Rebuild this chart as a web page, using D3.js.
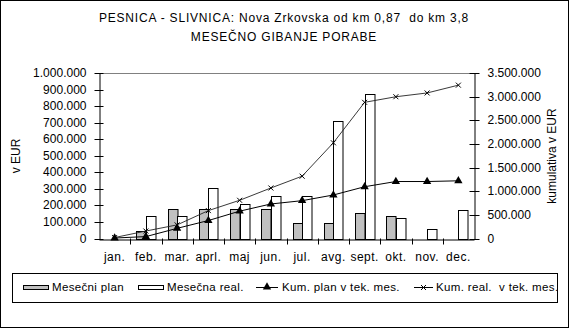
<!DOCTYPE html>
<html>
<head>
<meta charset="utf-8">
<script src="https://cdn.jsdelivr.net/npm/d3@7"></script>
<style>
  html, body { margin: 0; padding: 0; background: #fff; }
  svg { display: block; font-family: "Liberation Sans", Arial, sans-serif; }
  text { fill: #000; }
</style>
</head>
<body>
<svg id="chart" width="570" height="329"></svg>
<script>
// Monthly consumption, plan vs. realisation (EUR), and cumulative totals
const months = ["jan.", "feb.", "mar.", "aprl.", "maj", "jun.", "jul.", "avg.", "sept.", "okt.", "nov.", "dec."];
const monthlyPlan = [0, 45000, 178000, 178000, 178000, 178000, 95000, 95000, 154000, 136000, 0, 0];
const monthlyReal = [0, 136000, 136000, 303000, 208000, 256000, 256000, 709000, 872000, 122000, 57000, 172000];
const cumPlan = [10000, 40000, 215000, 380000, 578000, 730000, 800000, 920000, 1095000, 1205000, 1205000, 1220000];
const cumReal = [20000, 158000, 288000, 590000, 808000, 1068000, 1318000, 2024000, 2880000, 2998000, 3078000, 3243000];
const leftTicks = [0, 100000, 200000, 300000, 400000, 500000, 600000, 700000, 800000, 900000, 1000000];
const rightTicks = [0, 500000, 1000000, 1500000, 2000000, 2500000, 3000000, 3500000];
const legendLabels = ["Mesečni plan", "Mesečna real.", "Kum. plan v tek. mes.", "Kum. real.  v tek. mes."];

const svg = d3.select("#chart");
const W = 570, H = 329;
const plot = { left: 99, right: 474, top: 73, bottom: 238.5 };

const fmt = d3.formatLocale({ decimal: ",", thousands: ".", grouping: [3], currency: ["", ""] }).format(",");

// frame
svg.append("rect").attr("x", 0.5).attr("y", 0.5).attr("width", W - 2).attr("height", H - 2)
  .attr("fill", "#fff").attr("stroke", "#000");

// title
const title = svg.append("text").attr("text-anchor", "middle").attr("font-size", 12)
  .attr("letter-spacing", 0.8).style("white-space", "pre");
title.append("tspan").attr("x", 284).attr("y", 22).text("PESNICA - SLIVNICA: Nova Zrkovska od km 0,87  do km 3,8");
title.append("tspan").attr("x", 284).attr("y", 41).text("MESEČNO GIBANJE PORABE");

const x = d3.scaleBand().domain(months).range([plot.left, plot.right]).padding(0);
const yL = d3.scaleLinear().domain([0, 1000000]).range([plot.bottom, plot.top]);
const yR = d3.scaleLinear().domain([0, 3500000]).range([plot.bottom, plot.top]);

// top plot border line
svg.append("line").attr("x1", plot.left).attr("x2", plot.right)
  .attr("y1", Math.round(yL(1000000)) + 0.5).attr("y2", Math.round(yL(1000000)) + 0.5)
  .attr("stroke", "#808080");

// bars
const bw = 9.5;
const cx = m => x(m) + x.bandwidth() / 2;
const barG = svg.append("g");
barG.selectAll("rect.plan").data(months).join("rect").attr("class", "plan")
  .attr("x", m => Math.round(cx(m) - bw) + 0.5)
  .attr("width", bw)
  .attr("y", (m, i) => Math.round(yL(monthlyPlan[i])) + 0.5)
  .attr("height", (m, i) => Math.max(0, Math.round(yL(0)) - Math.round(yL(monthlyPlan[i]))))
  .attr("fill", "#c0c0c0").attr("stroke", "#000")
  .style("display", (m, i) => monthlyPlan[i] > 0 ? null : "none");
barG.selectAll("rect.real").data(months).join("rect").attr("class", "real")
  .attr("x", m => Math.round(cx(m)) + 0.5)
  .attr("width", bw)
  .attr("y", (m, i) => Math.round(yL(monthlyReal[i])) + 0.5)
  .attr("height", (m, i) => Math.max(0, Math.round(yL(0)) - Math.round(yL(monthlyReal[i]))))
  .attr("fill", "#fff").attr("stroke", "#000")
  .style("display", (m, i) => monthlyReal[i] > 0 ? null : "none");

// axes
const axL = svg.append("g").attr("transform", `translate(${plot.left + 0.5},0)`)
  .call(d3.axisLeft(yL).tickValues(leftTicks).tickFormat(fmt).tickSizeInner(5).tickSizeOuter(0).tickPadding(8));
const axR = svg.append("g").attr("transform", `translate(${plot.right + 0.5},0)`)
  .call(d3.axisRight(yR).tickValues(rightTicks).tickFormat(fmt).tickSizeInner(5).tickSizeOuter(0).tickPadding(8));
[axL, axR].forEach(a => {
  a.select(".domain").attr("stroke", "#000");
  a.selectAll(".tick line").attr("stroke", "#000");
  a.selectAll(".tick text").attr("font-size", 12).attr("font-family", "Liberation Sans, Arial, sans-serif").attr("fill", "#000");
});
axL.selectAll(".tick line").attr("x1", 4);
axR.selectAll(".tick line").attr("x1", -5);
axL.selectAll(".tick").attr("transform", d => `translate(0,${Math.round(yL(d)) + 0.5})`);
axR.selectAll(".tick").attr("transform", d => `translate(0,${Math.round(yR(d)) + 0.5})`);
axL.selectAll(".tick text").attr("x", -13);

const axB = svg.append("g").attr("transform", `translate(0,${Math.round(plot.bottom) + 0.5})`)
  .call(d3.axisBottom(x).tickSize(0).tickPadding(13));
axB.select(".domain").attr("stroke", "#000");
axB.selectAll(".tick text").attr("font-size", 12).attr("letter-spacing", 0.5)
  .attr("font-family", "Liberation Sans, Arial, sans-serif").attr("fill", "#000");
// category boundary ticks
axB.selectAll("line.sep").data(months.slice(1)).join("line").attr("class", "sep")
  .attr("x1", m => Math.round(x(m)) + 0.5).attr("x2", m => Math.round(x(m)) + 0.5)
  .attr("y1", -1).attr("y2", 5).attr("stroke", "#000");

// axis titles
svg.append("text").attr("transform", "translate(20,156) rotate(-90)").attr("text-anchor", "middle")
  .attr("font-size", 12).text("v EUR");
svg.append("text").attr("transform", "translate(556,156) rotate(-90)").attr("text-anchor", "middle")
  .attr("font-size", 12).text("kumulativa v EUR");

// cumulative lines
const linePlan = d3.line().x((d, i) => cx(months[i])).y(d => yR(d));
svg.append("path").attr("d", linePlan(cumPlan)).attr("fill", "none").attr("stroke", "#000").attr("stroke-width", 1);
svg.append("path").attr("d", linePlan(cumReal)).attr("fill", "none").attr("stroke", "#222").attr("stroke-width", 0.9);

const tri = d3.symbol().type(d3.symbolTriangle).size(30);
svg.selectAll("path.tri").data(cumPlan).join("path").attr("class", "tri")
  .attr("d", tri).attr("transform", (d, i) => `translate(${cx(months[i])},${yR(d)})`).attr("fill", "#000");

const cross = d3.symbol().type(d3.symbolX).size(18);
svg.selectAll("path.cx").data(cumReal).join("path").attr("class", "cx")
  .attr("d", cross).attr("transform", (d, i) => `translate(${cx(months[i])},${yR(d)})`)
  .attr("fill", "none").attr("stroke", "#000").attr("stroke-width", 1);

// legend
const lg = svg.append("g");
lg.append("rect").attr("x", 12.5).attr("y", 273.5).attr("width", 545).attr("height", 29)
  .attr("fill", "#fff").attr("stroke", "#000");
const ly = 287;
lg.append("rect").attr("x", 23.5).attr("y", ly - 1.5).attr("width", 25).attr("height", 4).attr("fill", "#c0c0c0").attr("stroke", "#000");
lg.append("rect").attr("x", 138.5).attr("y", ly - 1.5).attr("width", 25).attr("height", 4).attr("fill", "#fff").attr("stroke", "#000");
lg.append("line").attr("x1", 256).attr("x2", 278).attr("y1", ly + 0.5).attr("y2", ly + 0.5).attr("stroke", "#000");
lg.append("path").attr("d", tri).attr("transform", `translate(267,${ly})`).attr("fill", "#000");
lg.append("line").attr("x1", 414).attr("x2", 433).attr("y1", ly + 0.5).attr("y2", ly + 0.5).attr("stroke", "#000");
lg.append("path").attr("d", cross).attr("transform", `translate(423.5,${ly + 0.5})`).attr("fill", "none").attr("stroke", "#000");
const lx = [52, 167, 282, 436];
lg.selectAll("text").data(legendLabels).join("text")
  .attr("x", (d, i) => lx[i]).attr("y", 291).attr("font-size", 11.5).attr("letter-spacing", 0.35)
  .style("white-space", "pre").text(d => d);
</script>
</body>
</html>
